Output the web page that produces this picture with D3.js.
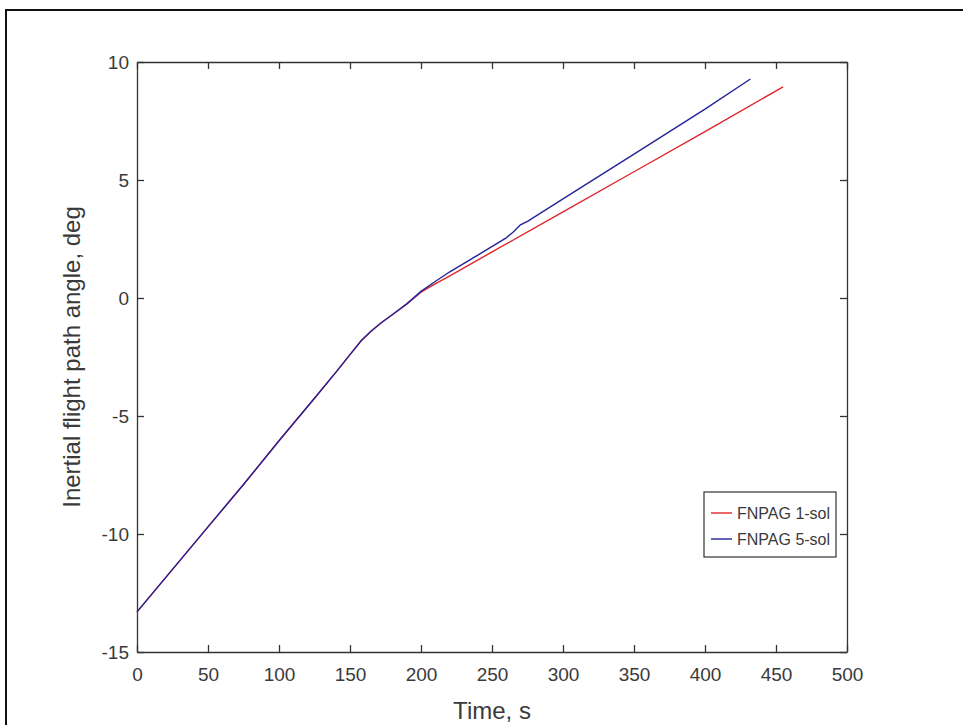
<!DOCTYPE html>
<html>
<head>
<meta charset="utf-8">
<script src="https://cdn.jsdelivr.net/npm/d3@7"></script>
<style>
  body { margin: 0; background: #fff; }
  svg { display: block; font-family: "Liberation Sans", Arial, sans-serif; }
  .axis path, .axis line { stroke: #333; stroke-width: 1.3; }
  .axis text { fill: #3a3a3a; font-size: 19px; }
</style>
</head>
<body>
<div class="chart"></div>
<script>
// values
const xTicks = [0, 50, 100, 150, 200, 250, 300, 350, 400, 450, 500];
const yTicks = [-15, -10, -5, 0, 5, 10];

const time1 = [0, 25, 50, 75, 100, 125, 140, 150, 158, 165, 172, 180, 190, 200, 210, 220, 250, 300, 350, 400, 455];
const gamma1 = [-13.3, -11.5, -9.7, -7.9, -6.05, -4.25, -3.15, -2.4, -1.8, -1.4, -1.05, -0.7, -0.25, 0.25, 0.6, 0.93, 1.95, 3.65, 5.35, 7.05, 8.95];

const time5 = [0, 25, 50, 75, 100, 125, 140, 150, 158, 165, 172, 180, 190, 200, 210, 220, 240, 260, 265, 270, 275, 300, 350, 400, 432];
const gamma5 = [-13.3, -11.5, -9.7, -7.9, -6.05, -4.25, -3.15, -2.4, -1.8, -1.4, -1.05, -0.7, -0.25, 0.28, 0.7, 1.1, 1.82, 2.55, 2.8, 3.1, 3.25, 4.2, 6.1, 8.0, 9.28];

const seriesNames = ['FNPAG 1-sol', 'FNPAG 5-sol'];
const seriesColors = ['#e0262a', '#23239a'];

const W = 963, H = 725;
const margin = { left: 137, right: 116, top: 62, bottom: 73 };
const width = W - margin.left - margin.right;
const height = H - margin.top - margin.bottom;

const svg = d3.select('.chart').append('svg')
  .attr('width', W)
  .attr('height', H);

// outer frame of the figure
svg.append('rect')
  .attr('x', 6).attr('y', 10)
  .attr('width', W + 20).attr('height', H + 20)
  .attr('fill', 'none')
  .attr('stroke', '#111')
  .attr('stroke-width', 2);

const g = svg.append('g').attr('transform', 'translate(' + margin.left + ',' + margin.top + ')');

const x = d3.scaleLinear().domain([0, 500]).range([0, width]);
const y = d3.scaleLinear().domain([-15, 10]).range([height, 0]);

// plain hyphen for negatives, like matlab
const fmt = function (d) { return String(d); };

// axes, ticks pointing inward like matlab
g.append('g').classed('axis', true)
  .attr('transform', 'translate(0,' + height + ')')
  .call(d3.axisBottom(x).tickValues(xTicks).tickFormat(fmt).tickSizeInner(-7).tickSizeOuter(0).tickPadding(16));

g.append('g').classed('axis', true)
  .call(d3.axisLeft(y).tickValues(yTicks).tickFormat(fmt).tickSizeInner(-7).tickSizeOuter(0).tickPadding(8));

g.append('g').classed('axis', true)
  .call(d3.axisTop(x).tickValues(xTicks).tickSizeInner(-7).tickSizeOuter(0).tickFormat(''));

g.append('g').classed('axis', true)
  .attr('transform', 'translate(' + width + ',0)')
  .call(d3.axisRight(y).tickValues(yTicks).tickSizeInner(-7).tickSizeOuter(0).tickFormat(''));

g.selectAll('.axis .domain').attr('stroke', '#333');

// lines
const line = d3.line()
  .x(function (d) { return x(d[0]); })
  .y(function (d) { return y(d[1]); });

const series = [
  d3.zip(time1, gamma1),
  d3.zip(time5, gamma5)
];

series.forEach(function (s, i) {
  g.append('path')
    .datum(s)
    .attr('fill', 'none')
    .attr('stroke', seriesColors[i])
    .attr('stroke-width', 1.4)
    .attr('d', line);
});

// axis labels
svg.append('text')
  .attr('x', margin.left + width / 2)
  .attr('y', 719)
  .attr('text-anchor', 'middle')
  .attr('fill', '#3a3a3a')
  .style('font-size', '24px')
  .text('Time, s');

svg.append('text')
  .attr('transform', 'translate(80,' + (margin.top + height / 2) + ') rotate(-90)')
  .attr('text-anchor', 'middle')
  .attr('fill', '#3a3a3a')
  .style('font-size', '24px')
  .text('Inertial flight path angle, deg');

// legend
const legend = svg.append('g').attr('transform', 'translate(704,492)');
legend.append('rect')
  .attr('width', 132).attr('height', 65)
  .attr('fill', '#fff')
  .attr('stroke', '#333')
  .attr('stroke-width', 1.2);

seriesNames.forEach(function (name, i) {
  const ly = 21 + i * 26;
  legend.append('line')
    .attr('x1', 7).attr('x2', 28)
    .attr('y1', ly).attr('y2', ly)
    .attr('stroke', seriesColors[i])
    .attr('stroke-width', 1.4);
  legend.append('text')
    .attr('x', 33).attr('y', ly)
    .attr('dy', '0.35em')
    .attr('fill', '#3a3a3a')
    .style('font-size', '16px')
    .text(name);
});
</script>
</body>
</html>
